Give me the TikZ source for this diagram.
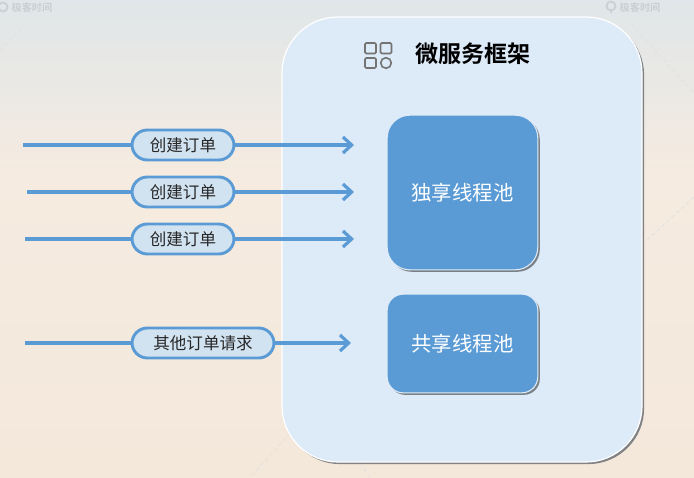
\documentclass[tikz,border=0pt]{standalone}
\usepackage{fontspec}
\setmainfont{Noto Sans CJK SC}
\newfontfamily\cjkbold{Noto Sans CJK SC Bold}
\usetikzlibrary{arrows.meta,shadows}
\definecolor{accent}{HTML}{5B9BD5}
\definecolor{pillfill}{HTML}{D1E2F0}
\definecolor{panel}{HTML}{DDEAF8}
\definecolor{wm}{HTML}{C9CFD2}
\tikzset{
  x=0.75pt,y=-0.75pt,
  panelbox/.style={draw=white,line width=0.9pt,fill=panel,rounded corners=42pt,minimum width=270pt,minimum height=333.75pt,inner sep=0pt,
    drop shadow={shadow xshift=1.6pt,shadow yshift=-1.6pt,fill=black!55!panel,opacity=.8}},
  pool/.style={draw=white!80!accent,line width=0.8pt,fill=accent,text=white,minimum width=113pt,inner sep=0pt,font=\fontsize{15.3}{18}\selectfont,
    drop shadow={shadow xshift=1.5pt,shadow yshift=-1.5pt,fill=black!60!panel,opacity=.75}},
  pill/.style={draw=accent,line width=2.2pt,fill=pillfill,text=black!85,rounded corners=11.5pt,minimum height=22.5pt,inner sep=0pt,font=\fontsize{12.4}{15}\selectfont},
  flow/.style={draw=accent,line width=2.6pt},
  flowtip/.style={flow,-{Straight Barb[length=6.5pt,width=12pt,line width=2.4pt]}},
  iconshape/.style={draw=black!55,line width=1.2pt,rounded corners=1pt},
  wmtext/.style={text=wm,font=\cjkbold\fontsize{7.6}{9}\selectfont,inner sep=0pt},
  faintdash/.style={draw=black!12,line width=0.5pt,densely dashed},
  faintdot/.style={draw=black!10,line width=0.6pt,dotted}
}
\begin{document}
\begin{tikzpicture}
\useasboundingbox (0,0) rectangle (694,478);
% background
\shade[top color=white!60!black!0!,bottom color=white,top color={rgb,255:red,224;green,230;blue,233},bottom color={rgb,255:red,245;green,235;blue,224}] (0,0) rectangle (694,172);
\shade[top color={rgb,255:red,245;green,235;blue,224},bottom color={rgb,255:red,244;green,232;blue,219}] (0,171) rectangle (694,478);
% faint decoration
\coordinate (d1a) at (0,50); \coordinate (d1b) at (25,25);
\coordinate (d2a) at (632,25); \coordinate (d2b) at (694,93);
\coordinate (d3a) at (694,197); \coordinate (d3b) at (647,240);
\coordinate (d4a) at (290,433); \coordinate (d4b) at (250,478);
\coordinate (d5a) at (360,463); \coordinate (d5b) at (370,478);
\foreach \a/\b in {d1a/d1b,d2a/d2b,d3a/d3b,d4a/d4b,d5a/d5b}{\draw[faintdash] (\a) -- (\b);}
\coordinate (t1a) at (62,7); \coordinate (t1b) at (603,7);
\coordinate (t2a) at (672,7); \coordinate (t2b) at (694,7);
\draw[faintdot] (t1a) -- (t1b);
\draw[faintdot] (t2a) -- (t2b);
% watermarks
\node[wmtext] (wm1) at (32,7.5) {极客时间};
\node[wmtext] (wm2) at (640,7.5) {极客时间};
\draw[wm,line width=1.3pt] (3,7) circle (4.5);
\draw[wm,line width=1.3pt] (611,6) circle (4.5);
\draw[wm,line width=1.5pt] (611,10) -- (611,13);
% panel
\node[panelbox] (panel) at (462,239.5) {};
\node[pool,rounded corners=17pt,minimum height=116pt] (excl) at (462.5,192.5) {独享线程池};
\node[pool,rounded corners=12pt,minimum height=74pt] (shared) at (462.5,343.5) {共享线程池};
% title and icon
\node[inner sep=0pt,font=\cjkbold\fontsize{17.3}{20}\selectfont,text=black] (title) at (473,54) {微服务框架};
\draw[iconshape] (365,43) rectangle (376,53.5);
\draw[iconshape] (380.5,43) rectangle (391.5,53.5);
\draw[iconshape] (365,58) rectangle (376,68);
\draw[draw=black!55,line width=1.2pt] (386,63) circle (5.3);
% connector ends
\coordinate (s1) at (23,145); \coordinate (e1) at (354,145);
\coordinate (s2) at (27,192); \coordinate (e2) at (354,192);
\coordinate (s3) at (25,239); \coordinate (e3) at (354,239);
\coordinate (s4) at (25,343); \coordinate (e4) at (351,343);
% pills
\node[pill,minimum width=76.5pt] (p1) at (183,145) {创建订单};
\node[pill,minimum width=76.5pt] (p2) at (183,192) {创建订单};
\node[pill,minimum width=76.5pt] (p3) at (183,239) {创建订单};
\node[pill,minimum width=106.5pt] (p4) at (203,343) {其他订单请求};
% connectors
\draw[flow] (s1) -- (p1); \draw[flowtip] (p1) -- (e1);
\draw[flow] (s2) -- (p2); \draw[flowtip] (p2) -- (e2);
\draw[flow] (s3) -- (p3); \draw[flowtip] (p3) -- (e3);
\draw[flow] (s4) -- (p4); \draw[flowtip] (p4) -- (e4);
\end{tikzpicture}
\end{document}
